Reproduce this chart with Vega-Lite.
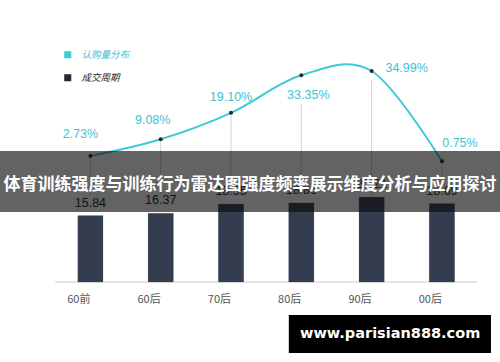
{
  "$schema": "https://vega.github.io/schema/vega-lite/v6.json",
  "width": 500,
  "height": 282,
  "autosize": "none",
  "padding": {"left": 0, "top": 0, "right": 0, "bottom": 80},
  "background": "white",
  "config": {
    "view": {"stroke": null},
    "font": "Liberation Sans",
    "axis": {"grid": false}
  },
  "data": {
    "values": [
      {"cat": "60前", "share": 2.73, "shareLabel": "2.73%", "cycle": 15.84},
      {"cat": "60后", "share": 9.08, "shareLabel": "9.08%", "cycle": 16.37},
      {"cat": "70后", "share": 19.10, "shareLabel": "19.10%", "cycle": 18.55},
      {"cat": "80后", "share": 33.35, "shareLabel": "33.35%", "cycle": 18.86},
      {"cat": "90后", "share": 34.99, "shareLabel": "34.99%", "cycle": 20.21},
      {"cat": "00后", "share": 0.75, "shareLabel": "0.75%", "cycle": 18.69}
    ]
  },
  "resolve": {"scale": {"y": "independent"}},
  "layer": [
    {
      "layer": [
        {
          "mark": {"type": "rule", "color": "#e4e4e4", "strokeWidth": 1},
          "encoding": {
            "x": {"datum": "60前", "bandPosition": -0.903, "type": "nominal",
              "scale": {"domain": ["60前", "60后", "70后", "80后", "90后", "00后"], "range": [0, 500], "paddingInner": 0.644, "paddingOuter": 0.878, "align": 0.631}},
            "x2": {"datum": "00后", "bandPosition": 1.903},
            "y": {"datum": 0, "type": "quantitative", "scale": {"domain": [0, 67.3], "nice": false, "zero": false}, "axis": null}
          }
        },
        {
          "mark": {"type": "bar", "stroke": "#9aa0aa", "strokeWidth": 0.5},
          "encoding": {
            "x": {
              "field": "cat", "type": "nominal",
              "axis": {"title": null, "domain": false, "ticks": false, "labelAngle": 0, "labelFontSize": 11, "labelColor": "#555555", "labelPadding": 17, "labelFont": "Noto Sans CJK SC"}
            },
            "y": {"field": "cycle", "type": "quantitative", "axis": null},
            "color": {
              "datum": "成交周期",
              "scale": {"domain": ["认购量分布", "成交周期"], "range": ["#3ecad6", "#232a36"]},
              "legend": {
                "title": null, "orient": "none", "legendX": 63, "legendY": 50,
                "symbolType": "square", "symbolSize": 50, "symbolStrokeWidth": 0,
                "labelFontSize": 9.5, "labelFontStyle": "italic", "labelFont": "Noto Sans CJK SC",
                "labelColor": {"expr": "datum.value === '认购量分布' ? '#3ec3d0' : '#222222'"},
                "rowPadding": 12, "labelOffset": 9, "padding": 0
              }
            }
          }
        },
        {
          "mark": {"type": "bar", "color": "#343d4f"},
          "encoding": {"x": {"field": "cat", "type": "nominal"}, "y": {"field": "cycle", "type": "quantitative"}}
        },
        {
          "mark": {"type": "text", "baseline": "bottom", "dy": -6, "fontSize": 12.5, "color": "#222222"},
          "encoding": {
            "x": {"field": "cat", "type": "nominal"},
            "y": {"field": "cycle", "type": "quantitative"},
            "text": {"field": "cycle", "type": "quantitative", "format": ".2f"}
          }
        }
      ]
    },
    {
      "layer": [
        {
          "transform": [{"filter": "datum.cat !== '80后' && datum.cat !== '90后'"}],
          "mark": {"type": "rule", "color": "#d2d2d2", "strokeWidth": 1},
          "encoding": {
            "x": {"field": "cat", "type": "nominal"},
            "y": {"field": "share", "type": "quantitative", "scale": {"domain": [-45.09, 61.94], "nice": false, "zero": false}, "axis": null},
            "y2": {"datum": -12}
          }
        },
        {
          "transform": [{"filter": "datum.cat === '80后'"}],
          "mark": {"type": "rule", "color": "#d2d2d2", "strokeWidth": 1},
          "encoding": {"x": {"field": "cat", "type": "nominal"}, "y": {"datum": 22.5, "type": "quantitative"}, "y2": {"datum": -12}}
        },
        {
          "transform": [{"filter": "datum.cat === '90后'"}],
          "mark": {"type": "rule", "color": "#d2d2d2", "strokeWidth": 1},
          "encoding": {"x": {"field": "cat", "type": "nominal"}, "y": {"datum": 31.6, "type": "quantitative"}, "y2": {"datum": -12}}
        },
        {
          "mark": {"type": "line", "interpolate": "cardinal", "strokeWidth": 2},
          "encoding": {
            "x": {"field": "cat", "type": "nominal"},
            "y": {"field": "share", "type": "quantitative"},
            "color": {"datum": "认购量分布"}
          }
        },
        {
          "mark": {"type": "point", "filled": true, "size": 16, "color": "#1b2a33", "opacity": 1},
          "encoding": {"x": {"field": "cat", "type": "nominal"}, "y": {"field": "share", "type": "quantitative"}}
        },
        {
          "transform": [{"filter": "datum.cat === '60前'"}],
          "mark": {"type": "text", "dx": -10, "dy": -22, "fontSize": 12.5, "color": "#3ec3d0"},
          "encoding": {"x": {"field": "cat", "type": "nominal"}, "y": {"field": "share", "type": "quantitative"}, "text": {"field": "shareLabel"}}
        },
        {
          "transform": [{"filter": "datum.cat === '60后'"}],
          "mark": {"type": "text", "dx": -8, "dy": -19, "fontSize": 12.5, "color": "#3ec3d0"},
          "encoding": {"x": {"field": "cat", "type": "nominal"}, "y": {"field": "share", "type": "quantitative"}, "text": {"field": "shareLabel"}}
        },
        {
          "transform": [{"filter": "datum.cat === '70后'"}],
          "mark": {"type": "text", "dx": 0, "dy": -16, "fontSize": 12.5, "color": "#3ec3d0"},
          "encoding": {"x": {"field": "cat", "type": "nominal"}, "y": {"field": "share", "type": "quantitative"}, "text": {"field": "shareLabel"}}
        },
        {
          "transform": [{"filter": "datum.cat === '80后'"}],
          "mark": {"type": "text", "dx": 7, "dy": 20, "fontSize": 12.5, "color": "#3ec3d0"},
          "encoding": {"x": {"field": "cat", "type": "nominal"}, "y": {"field": "share", "type": "quantitative"}, "text": {"field": "shareLabel"}}
        },
        {
          "transform": [{"filter": "datum.cat === '90后'"}],
          "mark": {"type": "text", "dx": 35, "dy": -3, "fontSize": 12.5, "color": "#3ec3d0"},
          "encoding": {"x": {"field": "cat", "type": "nominal"}, "y": {"field": "share", "type": "quantitative"}, "text": {"field": "shareLabel"}}
        },
        {
          "transform": [{"filter": "datum.cat === '00后'"}],
          "mark": {"type": "text", "dx": 18, "dy": -18, "fontSize": 12.5, "color": "#3ec3d0"},
          "encoding": {"x": {"field": "cat", "type": "nominal"}, "y": {"field": "share", "type": "quantitative"}, "text": {"field": "shareLabel"}}
        },
        {
          "data": {"values": [{"label": "体育训练强度与训练行为雷达图强度频率展示维度分析与应用探讨"}]},
          "mark": {"type": "rect", "color": "#0b0b0b", "opacity": 0.64},
          "encoding": {"y": {"datum": 4.63, "type": "quantitative"}, "y2": {"datum": -18.52}}
        },
        {
          "data": {"values": [{"label": "体育训练强度与训练行为雷达图强度频率展示维度分析与应用探讨"}]},
          "mark": {"type": "text", "color": "white", "fontSize": 17, "fontWeight": "bold", "font": "Noto Sans CJK SC", "baseline": "middle"},
          "encoding": {"y": {"datum": -8.27, "type": "quantitative"}, "text": {"field": "label"}}
        },
        {
          "data": {"values": [{"label": "www.parisian888.com"}]},
          "mark": {"type": "rect", "color": "#000000"},
          "encoding": {
            "x": {"datum": "80后", "bandPosition": 0, "type": "nominal"},
            "x2": {"datum": "00后", "bandPosition": 2.46},
            "y": {"datum": -57.6, "type": "quantitative"},
            "y2": {"datum": -72.0}
          }
        },
        {
          "data": {"values": [{"label": "www.parisian888.com"}]},
          "mark": {"type": "text", "color": "white", "fontSize": 14.5, "fontWeight": "bold", "font": "DejaVu Sans", "baseline": "middle"},
          "encoding": {
            "x": {"datum": "90后", "bandPosition": 1.24, "type": "nominal"},
            "y": {"datum": -64.8, "type": "quantitative"},
            "text": {"field": "label"}
          }
        }
      ]
    }
  ]
}
